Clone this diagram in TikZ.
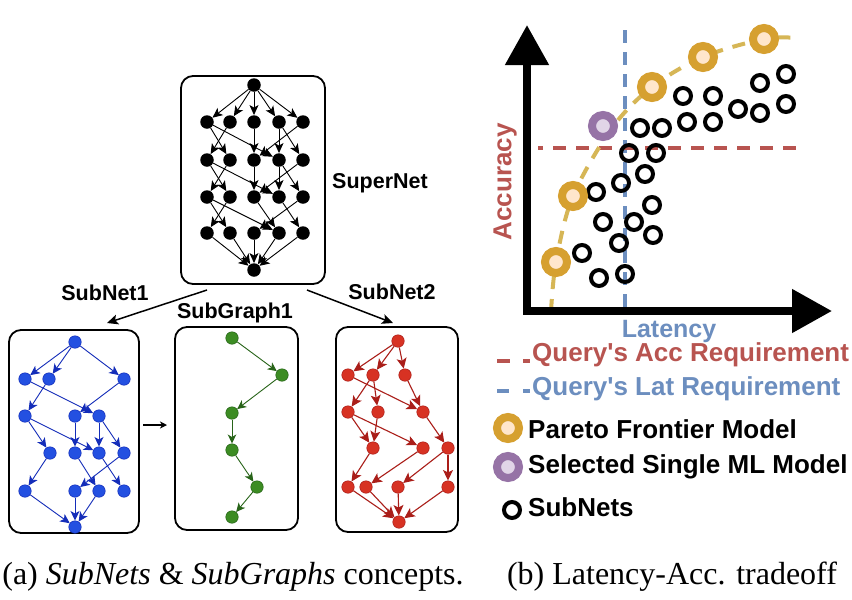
\documentclass[tikz,border=0pt]{standalone}
\usepackage{fontspec}
\newfontfamily\hv{Liberation Sans}
\newfontfamily\capfont{Liberation Serif}
\usetikzlibrary{arrows.meta}
\definecolor{nblue}{RGB}{35,80,225}
\definecolor{eblue}{RGB}{20,45,185}
\definecolor{ngreen}{RGB}{60,140,35}
\definecolor{egreen}{RGB}{40,100,25}
\definecolor{nred}{RGB}{215,50,35}
\definecolor{ered}{RGB}{170,30,25}
\definecolor{accred}{HTML}{B85450}
\definecolor{latblue}{HTML}{6C8EBF}
\definecolor{pgold}{RGB}{214,160,48}
\definecolor{ppeach}{HTML}{FFE6CC}
\definecolor{curvegold}{HTML}{D6B656}
\definecolor{ppurple}{HTML}{9673A6}
\definecolor{plilac}{HTML}{E1D5E7}
\begin{document}
\begin{tikzpicture}[x=1pt,y=-1pt,
  box/.style={draw, line width=1.8pt, rounded corners=12pt, inner sep=0},
  snode/.style={circle, fill=black, inner sep=0, minimum size=13.5pt},
  bnode/.style={circle, fill=nblue, draw=eblue, line width=0.5pt, inner sep=0, minimum size=12.5pt},
  gnode/.style={circle, fill=ngreen, draw=egreen, line width=0.5pt, inner sep=0, minimum size=12.5pt},
  rnode/.style={circle, fill=nred, draw=ered, line width=0.5pt, inner sep=0, minimum size=12.5pt},
  sedge/.style={-{Stealth[length=10pt,width=9pt,inset=2.5pt]}, line width=0.9pt},
  bedge/.style={eblue, -{Stealth[length=9.5pt,width=9pt,inset=2.5pt]}, line width=0.9pt},
  gedge/.style={egreen, -{Stealth[length=9pt,width=8.5pt,inset=2.5pt]}, line width=0.9pt},
  redge/.style={ered, -{Stealth[length=10.5pt,width=10pt,inset=2.5pt]}, line width=1.1pt},
  bigarrow/.style={-{Stealth[length=11pt,width=10pt,inset=2.5pt]}, line width=1.5pt},
  lbl/.style={font=\hv\bfseries\fontsize{21.5}{24}\selectfont, inner sep=0},
  legtxt/.style={font=\hv\bfseries\fontsize{26}{30}\selectfont, inner sep=0, anchor=west},
  ring/.style={circle, draw=black, line width=4pt, minimum size=16pt, inner sep=0},
  pareto/.style={circle, draw=pgold, fill=ppeach, line width=8pt, minimum size=22pt, inner sep=0},
  chosen/.style={circle, draw=ppurple, fill=plilac, line width=8pt, minimum size=22pt, inner sep=0},
  capt/.style={font=\capfont\fontsize{32}{36}\selectfont, inner sep=0}
]
\useasboundingbox (0,0) rectangle (852,600);
\fill[white] (0,0) rectangle (852,600);

% ---------------- boxes
\node[box, minimum width=144pt, minimum height=208pt] (superbox) at (253,180) {};
\node[box, minimum width=130pt, minimum height=203pt] (sub1box) at (74,431.5) {};
\node[box, minimum width=123pt, minimum height=203pt] (sgbox) at (236.5,428.5) {};
\node[box, minimum width=122pt, minimum height=205pt] (sub2box) at (397,429.5) {};

% ---------------- SuperNet
\node[snode] (s0) at (254,85) {};
\foreach \r/\y in {1/122,2/160,3/197,4/233}{
  \foreach \c/\x in {1/207,2/230,3/254,4/279,5/303}{
    \node[snode] (s\r\c) at (\x,\y) {};
  }
}
\node[snode] (s5) at (254,270) {};
\foreach \a/\b in {s0/s11,s0/s12,s0/s13,s0/s14,s0/s15,
  s11/s22,s12/s21,s11/s24,s13/s23,s14/s24,s15/s23,s14/s25,
  s21/s32,s22/s31,s21/s34,s23/s33,s24/s34,s25/s33,s24/s35,
  s31/s42,s32/s41,s31/s44,s33/s44,s34/s45,s35/s43,
  s41/s5,s42/s5,s43/s5,s44/s5,s45/s5}
  \draw[sedge] (\a) -- (\b);

% ---------------- SubNet1 (blue)
\node[bnode] (b0) at (75,342) {};
\node[bnode] (b11) at (25,379) {};
\node[bnode] (b12) at (49,379) {};
\node[bnode] (b15) at (124,379) {};
\node[bnode] (b21) at (25,416) {};
\node[bnode] (b23) at (75,416) {};
\node[bnode] (b24) at (99,416) {};
\node[bnode] (b32) at (50,453) {};
\node[bnode] (b33) at (75,453) {};
\node[bnode] (b34) at (99,453) {};
\node[bnode] (b35) at (124,453) {};
\node[bnode] (b41) at (25,491) {};
\node[bnode] (b43) at (75,491) {};
\node[bnode] (b44) at (99,491) {};
\node[bnode] (b45) at (124,491) {};
\node[bnode] (b6) at (75,527) {};
\foreach \a/\b in {b0/b11,b0/b12,b0/b15,b11/b24,b12/b21,b15/b23,
  b21/b32,b21/b34,b23/b33,b24/b34,b24/b35,
  b32/b41,b33/b44,b34/b45,b35/b43,b41/b6,b43/b6,b44/b6}
  \draw[bedge] (\a) -- (\b);

% ---------------- SubGraph1 (green)
\node[gnode] (g1) at (232,338) {};
\node[gnode] (g2) at (282,375) {};
\node[gnode] (g3) at (232,413) {};
\node[gnode] (g4) at (232,450) {};
\node[gnode] (g5) at (257,487) {};
\node[gnode] (g6) at (232,517) {};
\foreach \a/\b in {g1/g2,g2/g3,g3/g4,g4/g5,g5/g6}
  \draw[gedge] (\a) -- (\b);

% ---------------- SubNet2 (red)
\node[rnode] (r0) at (398,341) {};
\node[rnode] (r11) at (348,375) {};
\node[rnode] (r12) at (373,375) {};
\node[rnode] (r13) at (405,375) {};
\node[rnode] (r21) at (348,412) {};
\node[rnode] (r22) at (378,412) {};
\node[rnode] (r23) at (423,412) {};
\node[rnode] (r31) at (373,448) {};
\node[rnode] (r32) at (423,448) {};
\node[rnode] (r33) at (448,448) {};
\node[rnode] (r41) at (348,487) {};
\node[rnode] (r42) at (366,487) {};
\node[rnode] (r43) at (398,487) {};
\node[rnode] (r44) at (448,487) {};
\node[rnode] (r5) at (399,522) {};
\foreach \a/\b in {r0/r11,r0/r12,r0/r13,r11/r23,r12/r21,r12/r22,r13/r23,
  r21/r31,r21/r32,r22/r31,r23/r33,r31/r41,r32/r42,r33/r43,r33/r44,
  r41/r5,r42/r5,r43/r5,r44/r5}
  \draw[redge] (\a) -- (\b);

% ---------------- arrows between boxes
\coordinate (a1s) at (207,290);
\coordinate (a1e) at (107,323);
\coordinate (a2s) at (307,290);
\coordinate (a2e) at (393,323);
\coordinate (a3s) at (143,425);
\coordinate (a3e) at (167,425);
\draw[bigarrow] (a1s) -- (a1e);
\draw[bigarrow] (a2s) -- (a2e);
\draw[-{Stealth[length=7pt,width=7pt,inset=2pt]}, line width=1.5pt] (a3s) -- (a3e);

% ---------------- labels (a)
\node[lbl, anchor=west] (lsuper) at (332,183) {SuperNet};
\node[lbl] (lsub1) at (105,293) {SubNet1};
\node[lbl] (lsg) at (235,313) {SubGraph1};
\node[lbl] (lsub2) at (392,292) {SubNet2};

% ---------------- plot (b)
\draw[latblue, line width=4pt, dash pattern=on 13pt off 9pt] (625,30) -- (625,308);
\draw[accred, line width=4pt, dash pattern=on 13pt off 10pt, dash phase=8pt] (538,148) -- (803,148);
\draw[curvegold, line width=4pt, dash pattern=on 13pt off 10pt]
  plot[smooth, tension=0.55] coordinates {(551,312) (556,262) (573,196) (612,128) (652,87) (703,57) (764,39) (797,38)};
\draw[line width=8pt, line join=miter,
  {Triangle[length=40pt,width=42pt]}-{Triangle[length=40pt,width=42pt]}]
  (527,25) -- (527,311) -- (832,311);

\foreach \n/\x/\y in {1/683/96,2/713/96,3/760/83,4/786/74,5/738/109,6/760/113,7/786/104,
  8/687/122,9/713/122,10/640/128,11/662/128,12/629/153,13/656/153,14/645/174,
  15/621/183,16/596/192,17/652/205,18/603/222,19/634/222,20/653/235,21/619/243,
  22/582/253,23/599/278,24/625/274}
  \node[ring] (ring\n) at (\x,\y) {};

\node[pareto] (p1) at (556,262) {};
\node[pareto] (p2) at (573,196) {};
\node[pareto] (p3) at (652,87) {};
\node[pareto] (p4) at (703,57) {};
\node[pareto] (p5) at (764,39) {};
\node[chosen] (sel) at (603,126) {};

\node[font=\hv\bfseries\fontsize{25}{28}\selectfont, text=latblue, inner sep=0] (lat) at (669,331) {Latency};
\node[font=\hv\bfseries\fontsize{26}{30}\selectfont, text=accred, inner sep=0, rotate=90] (acc) at (505,182) {Accuracy};

% ---------------- legend
\coordinate (l1s) at (497,361);
\coordinate (l1e) at (530,361);
\coordinate (l2s) at (497,391);
\coordinate (l2e) at (530,391);
\draw[accred, line width=4pt, dash pattern=on 13pt off 13pt] (l1s) -- (l1e);
\draw[latblue, line width=4pt, dash pattern=on 12pt off 14pt] (l2s) -- (l2e);
\node[legtxt, text=accred] (t1) at (532,355) {Query's Acc Requirement};
\node[legtxt, text=latblue] (t2) at (532,389) {Query's Lat Requirement};
\node[pareto] (lp) at (508,428) {};
\node[legtxt] (t3) at (528,429) {Pareto Frontier Model};
\node[chosen] (ls) at (508,467) {};
\node[legtxt] (t4) at (528,467) {Selected Single ML Model};
\node[ring] (lr) at (512,510) {};
\node[legtxt] (t5) at (528,507) {SubNets};

% ---------------- captions
\node[capt] (capa) at (233,577) {(a) \textit{SubNets} \& \textit{SubGraphs} concepts.};
\node[capt] (capb) at (672,577) {(b) Latency-Acc. tradeoff};
\end{tikzpicture}
\end{document}
